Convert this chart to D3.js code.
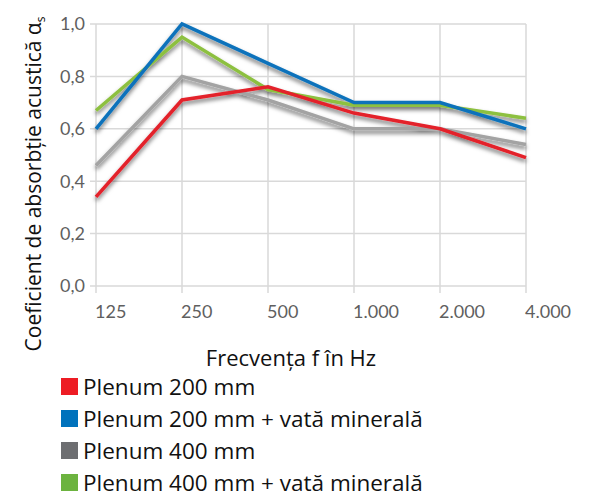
<!DOCTYPE html>
<html><head><meta charset="utf-8">
<script src="https://cdn.jsdelivr.net/npm/d3@7"></script>
<style>
html,body{margin:0;padding:0;background:#fff;}
svg{display:block;}
</style></head>
<body>
<script>
const categories = ["125","250","500","1.000","2.000","4.000"];
const yTicks = [0,0.2,0.4,0.6,0.8,1.0];
const seriesNames = ["Plenum 200 mm","Plenum 200 mm + vată minerală","Plenum 400 mm","Plenum 400 mm + vată minerală"];
const plenum200 = [0.34,0.71,0.76,0.66,0.60,0.49];
const plenum200Vata = [0.60,1.00,0.85,0.70,0.70,0.60];
const plenum400 = [0.46,0.80,0.71,0.60,0.60,0.54];
const plenum400Vata = [0.67,0.95,0.75,0.69,0.69,0.64];
const lineColors = ["#e3202b","#0a72bb","#a3a3a3","#8dc03f"];
const legendColors = ["#ed1c24","#0072bc","#6d6e71","#6cb33f"];

const W=592,H=494;
const svg=d3.select("body").append("svg").attr("width",W).attr("height",H);
const defs=svg.append("defs");
const f=defs.append("filter").attr("id","sh").attr("x","-10%").attr("y","-30%").attr("width","120%").attr("height","160%");
f.append("feDropShadow").attr("dx",0).attr("dy",3).attr("stdDeviation",2.2).attr("flood-color","#000").attr("flood-opacity",0.55);

const x=d3.scalePoint().domain(categories).range([96,526]);
const y=d3.scaleLinear().domain([0,1]).range([286,24]);

const grid="#d9d9d9";
svg.append("g").selectAll("line").data(yTicks).join("line")
  .attr("x1",90).attr("x2",526).attr("y1",d=>y(d)).attr("y2",d=>y(d))
  .attr("stroke",grid).attr("stroke-width",1.5);
svg.append("g").selectAll("line").data(categories).join("line")
  .attr("x1",d=>x(d)).attr("x2",d=>x(d)).attr("y1",y(1)).attr("y2",293)
  .attr("stroke",grid).attr("stroke-width",1.5);

const tickFont="Lato, sans-serif";
svg.append("g").selectAll("text").data(yTicks).join("text")
  .attr("x",85).attr("y",d=>y(d)).attr("dy","0.35em").attr("text-anchor","end")
  .attr("font-family",tickFont).attr("font-size",18).attr("fill","#5f5f5f")
  .text(d=>d3.format(".1f")(d).replace(".",","));
svg.append("g").selectAll("text").data(categories).join("text")
  .attr("x",d=>x(d)-1).attr("y",318).attr("text-anchor","start")
  .attr("font-family",tickFont).attr("font-size",18).attr("fill","#5f5f5f")
  .text(d=>d);

const series=[plenum400,plenum400Vata,plenum200Vata,plenum200];
const sColors=[lineColors[2],lineColors[3],lineColors[1],lineColors[0]];
const line=d3.line().x((d,i)=>x(categories[i])).y(d=>y(d));
svg.append("g").attr("filter","url(#sh)").selectAll("path").data(series).join("path")
  .attr("d",line).attr("fill","none").attr("stroke",(d,i)=>sColors[i])
  .attr("stroke-width",3.5).attr("stroke-linejoin","miter");

const titleFont="'Open Sans', sans-serif";
const yt=svg.append("text").attr("transform","translate(41,184) rotate(-90)")
  .attr("text-anchor","middle").attr("font-family",titleFont).attr("font-size",21).attr("fill","#111");
yt.append("tspan").text("Coeficient de absorbție acustică α");
yt.append("tspan").attr("font-size",12).attr("dy",4).text("s");

svg.append("text").attr("x",291).attr("y",366).attr("text-anchor","middle")
  .attr("font-family",titleFont).attr("font-size",22).attr("fill","#111").text("Frecvența f în Hz");

const lg=svg.append("g").selectAll("g").data(seriesNames).join("g")
  .attr("transform",(d,i)=>`translate(0,${387+i*32})`);
lg.append("rect").attr("x",61).attr("y",-9).attr("width",17).attr("height",17).attr("fill",(d,i)=>legendColors[i]);
lg.append("text").attr("x",83).attr("y",8).attr("font-family",titleFont)
  .attr("font-size",22.5).attr("fill","#111").text(d=>d);
</script>
</body></html>
